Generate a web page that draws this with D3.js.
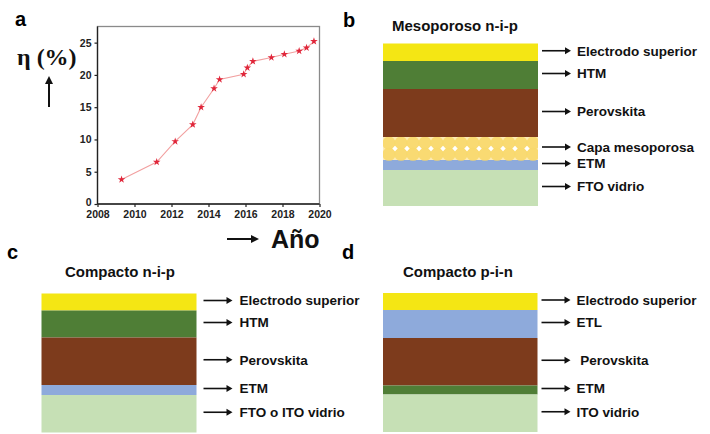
<!DOCTYPE html>
<html>
<head>
<meta charset="utf-8">
<script src="https://cdn.jsdelivr.net/npm/d3@7/dist/d3.min.js"></script>
<style>
  body { margin: 0; background: #fff; }
  svg { display: block; font-family: "Liberation Sans", Arial, sans-serif; }
</style>
</head>
<body>
<div id="chart"></div>
<script>
// panel a: record efficiency by year
const years = [2009.3, 2011.2, 2012.2, 2013.15, 2013.6, 2014.3, 2014.6, 2015.9, 2016.1, 2016.4, 2017.4, 2018.1, 2018.9, 2019.3, 2019.7];
const efficiency = [3.8, 6.5, 9.7, 12.3, 15.0, 17.9, 19.3, 20.1, 21.1, 22.1, 22.7, 23.2, 23.7, 24.2, 25.2];
const xTicks = [2008, 2010, 2012, 2014, 2016, 2018, 2020];
const yTicks = [0, 5, 10, 15, 20, 25];

// panels b, c, d: layer stacks (top to bottom), relative thickness
const layersB = ["Electrodo superior", "HTM", "Perovskita", "Capa mesoporosa", "ETM", "FTO vidrio"];
const kindsB = ["electrodo", "verde", "perov", "meso", "azul", "vidrio"];
const thickB = [17.5, 28, 48, 23, 10, 36];

const layersC = ["Electrodo superior", "HTM", "Perovskita", "ETM", "FTO o ITO vidrio"];
const kindsC = ["electrodo", "verde", "perov", "azul", "vidrio"];
const thickC = [17, 27, 47.5, 10, 37.5];

const layersD = ["Electrodo superior", "ETL", " Perovskita", "ETM", "ITO vidrio"];
const kindsD = ["electrodo", "azul", "perov", "verde", "vidrio"];
const thickD = [17, 28, 47.5, 9, 37.5];

const colors = {
  electrodo: "#f4e614",
  verde: "#4f7e36",
  perov: "#7d3b1c",
  meso: "#fdebb6",
  azul: "#8eaadb",
  vidrio: "#c6e0b5"
};

const W = 710, H = 434;
const svg = d3.select("#chart").append("svg")
  .attr("width", W).attr("height", H)
  .attr("viewBox", `0 0 ${W} ${H}`);

svg.append("rect").attr("width", W).attr("height", H).attr("fill", "#fff");

// panel letters
const letters = [["a", 15, 26], ["b", 343, 27], ["c", 7, 259], ["d", 342, 259]];
svg.selectAll("text.letter").data(letters).join("text")
  .attr("class", "letter")
  .attr("x", d => d[1]).attr("y", d => d[2])
  .attr("font-size", 20).attr("font-weight", "bold")
  .text(d => d[0]);

// ---------- panel a ----------
const x = d3.scaleLinear().domain([2008, 2020]).range([97.5, 319.5]);
const y = d3.scaleLinear().domain([0, 27.5]).range([204, 26.5]);

// frame
svg.append("rect")
  .attr("x", x.range()[0]).attr("y", y.range()[1])
  .attr("width", x.range()[1] - x.range()[0])
  .attr("height", y.range()[0] - y.range()[1])
  .attr("fill", "none").attr("stroke", "#8a8a8a").attr("stroke-width", 1.3);

const xAxis = svg.append("g")
  .attr("transform", `translate(0,${y(0)})`)
  .call(d3.axisBottom(x).tickValues(xTicks).tickFormat(d3.format("d")).tickSize(3).tickPadding(4));
const yAxis = svg.append("g")
  .attr("transform", `translate(${x(2008)},0)`)
  .call(d3.axisLeft(y).tickValues(yTicks).tickSize(3).tickPadding(3));

[xAxis, yAxis].forEach(a => {
  a.select(".domain").remove();
  a.selectAll("line").attr("stroke", "#222").attr("stroke-width", 1.2);
  a.selectAll("text").attr("font-size", 10.5).attr("font-weight", "bold")
    .attr("fill", "#222").attr("font-family", "Liberation Sans, Arial, sans-serif");
});
yAxis.selectAll(".tick").filter(d => d === 0).select("text").attr("dy", "0.1em");
svg.append("line").attr("x1", x(2008)).attr("x2", x(2020)).attr("y1", y(0)).attr("y2", y(0))
  .attr("stroke", "#222").attr("stroke-width", 1.3);
svg.append("line").attr("x1", x(2008)).attr("x2", x(2008)).attr("y1", y(0)).attr("y2", y.range()[1])
  .attr("stroke", "#222").attr("stroke-width", 1.3);

const pts = years.map((yr, i) => [yr, efficiency[i]]);
svg.append("path")
  .datum(pts)
  .attr("fill", "none").attr("stroke", "#f2a0a0").attr("stroke-width", 1.1)
  .attr("d", d3.line().x(d => x(d[0])).y(d => y(d[1])));

svg.append("g").selectAll("path").data(pts).join("path")
  .attr("transform", d => `translate(${x(d[0])},${y(d[1])})`)
  .attr("d", d3.symbol(d3.symbolStar, 18))
  .attr("fill", "#e0263a");

// axis titles
svg.append("text")
  .attr("x", 17).attr("y", 65)
  .attr("font-family", "Liberation Serif, Times New Roman, serif")
  .attr("font-size", 24).attr("font-weight", "bold").attr("fill", "#111")
  .text("η (%)");

const arrowUp = svg.append("g").attr("stroke", "#111").attr("fill", "#111");
arrowUp.append("line").attr("x1", 49).attr("x2", 49).attr("y1", 107).attr("y2", 80).attr("stroke-width", 2);
arrowUp.append("path").attr("d", "M45,84 L49,76 L53,84 Z").attr("stroke", "none");

const arrowRight = svg.append("g").attr("fill", "#111");
arrowRight.append("line").attr("x1", 227).attr("x2", 254).attr("y1", 239).attr("y2", 239)
  .attr("stroke", "#111").attr("stroke-width", 2);
arrowRight.append("path").attr("d", "M251,235 L259,239 L251,243 Z");

svg.append("text")
  .attr("x", 271).attr("y", 248)
  .attr("font-size", 25).attr("font-weight", "bold").attr("fill", "#111")
  .text("Año");

// ---------- panels b, c, d ----------
function drawStack(opt) {
  const g = svg.append("g");
  const total = d3.sum(opt.thick);
  const ys = d3.scaleLinear().domain([0, total]).range([opt.top, opt.top + total]);
  const starts = d3.cumsum([0].concat(opt.thick)).slice(0, opt.thick.length);
  const rows = opt.names.map((name, i) => ({
    name, kind: opt.kinds[i], y0: ys(starts[i]), y1: ys(starts[i] + opt.thick[i])
  }));

  g.append("text")
    .attr("x", opt.titleX).attr("y", opt.titleY)
    .attr("font-size", 15).attr("font-weight", "bold").attr("fill", "#111")
    .text(opt.title);

  g.selectAll("rect.layer").data(rows).join("rect")
    .attr("class", "layer")
    .attr("x", opt.x0).attr("width", opt.width)
    .attr("y", d => d.y0).attr("height", d => d.y1 - d.y0)
    .attr("fill", d => colors[d.kind]);

  // mesoporous texture: packed particles
  rows.filter(d => d.kind === "meso").forEach(d => {
    const clipId = "clip" + Math.round(d.y0);
    g.append("clipPath").attr("id", clipId).append("rect")
      .attr("x", opt.x0).attr("y", d.y0).attr("width", opt.width).attr("height", d.y1 - d.y0 + 1.5);
    const pg = g.append("g").attr("clip-path", `url(#${clipId})`);
    const h = d.y1 - d.y0, step = 12;
    const cols = d3.range(opt.x0 + step / 2, opt.x0 + opt.width + step, step);
    [d.y0 + h * 0.27, d.y0 + h * 0.75].forEach(cy => {
      pg.selectAll(null).data(cols).join("circle")
        .attr("cx", c => c).attr("cy", cy).attr("r", 6.6)
        .attr("fill", "#f8d86a").attr("opacity", 0.9);
    });
    const mids = d3.range(opt.x0 + step, opt.x0 + opt.width, step);
    pg.selectAll(null).data(mids).join("path")
      .attr("transform", c => `translate(${c},${d.y0 + h / 2})`)
      .attr("d", d3.symbol(d3.symbolDiamond2, 18))
      .attr("fill", "#fff");
  });

  const lab = g.selectAll("g.lab").data(rows).join("g")
    .attr("class", "lab")
    .attr("transform", d => `translate(0,${(d.y0 + d.y1) / 2 - 1.5})`);
  lab.append("line")
    .attr("x1", opt.x0 + opt.width + opt.arrowGap)
    .attr("x2", opt.x0 + opt.width + opt.arrowGap + 24)
    .attr("stroke", "#111").attr("stroke-width", 1.6);
  lab.append("path")
    .attr("d", () => {
      const e = opt.x0 + opt.width + opt.arrowGap + 29;
      return `M${e - 6},-3.5 L${e},0 L${e - 6},3.5 Z`;
    })
    .attr("fill", "#111");
  lab.append("text")
    .attr("x", opt.x0 + opt.width + opt.textGap)
    .attr("dy", "0.36em")
    .attr("font-size", 13.5).attr("font-weight", "bold").attr("fill", "#111")
    .attr("xml:space", "preserve")
    .text(d => d.name);
}

drawStack({ title: "Mesoporoso n-i-p", titleX: 392, titleY: 31, x0: 383, width: 155, top: 43.5,
  names: layersB, kinds: kindsB, thick: thickB, arrowGap: 4, textGap: 39 });
drawStack({ title: "Compacto n-i-p", titleX: 65, titleY: 277, x0: 41.5, width: 155, top: 293.5,
  names: layersC, kinds: kindsC, thick: thickC, arrowGap: 7, textGap: 43 });
drawStack({ title: "Compacto p-i-n", titleX: 403, titleY: 277, x0: 383, width: 154.5, top: 293,
  names: layersD, kinds: kindsD, thick: thickD, arrowGap: 4, textGap: 39 });
</script>
</body>
</html>
